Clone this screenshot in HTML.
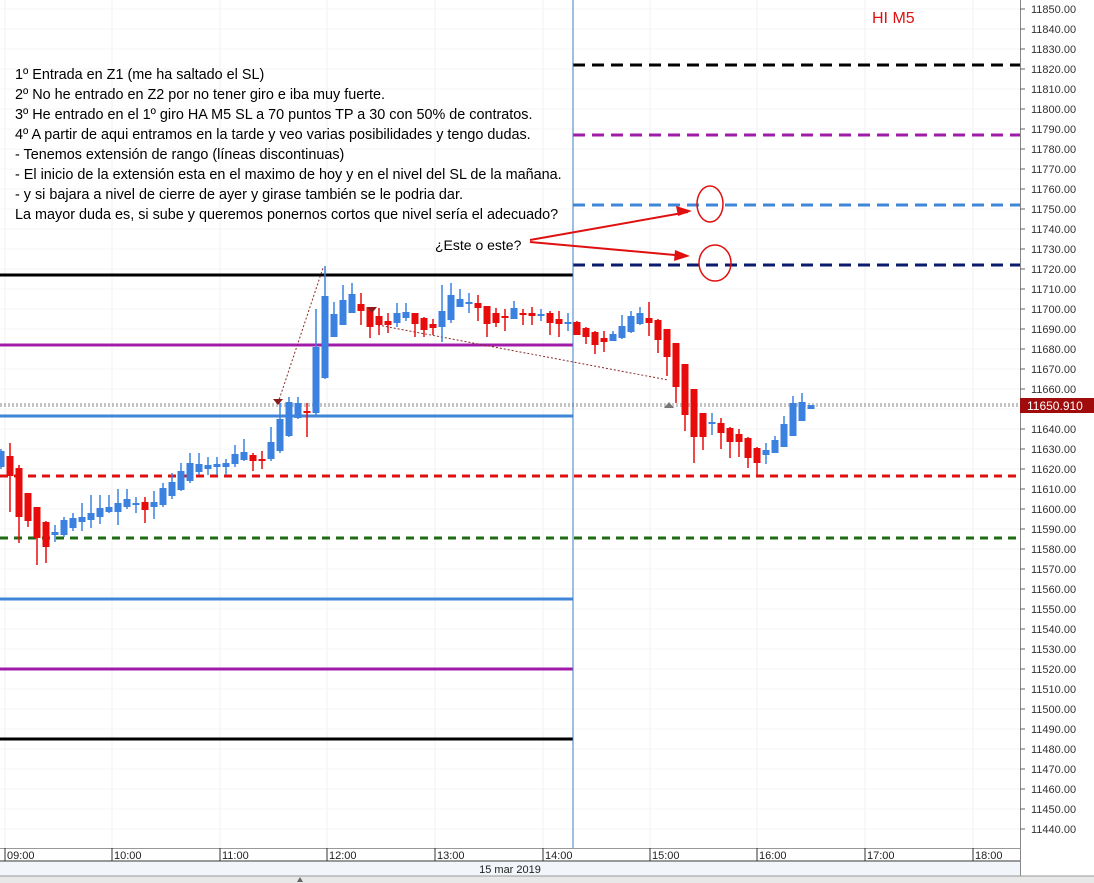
<!DOCTYPE html>
<html><head><meta charset="utf-8">
<style>
html,body{margin:0;padding:0;background:#fff;}
body{width:1094px;height:883px;overflow:hidden;font-family:"Liberation Sans",sans-serif;}
svg{display:block}
</style></head><body>
<svg id="c" width="1094" height="883" xmlns="http://www.w3.org/2000/svg" font-family="Liberation Sans, sans-serif">
<rect x="0" y="0" width="1094" height="883" fill="#fff"/>
<g id="grid"></g>
<g id="lines"></g>
<g id="candles"></g>
<g id="axis"></g>
<g id="ann"></g>
</svg>
<script>
const NS="http://www.w3.org/2000/svg";
function el(p,t,a,txt){const e=document.createElementNS(NS,t);for(const k in a)e.setAttribute(k,a[k]);if(txt!==undefined)e.textContent=txt;document.getElementById(p).appendChild(e);return e;}
const Y=v=>9+(11850-v)*2;
for(let v=11440;v<=11850;v+=10){el('grid','line',{x1:0,x2:1020,y1:Y(v),y2:Y(v),stroke:'#f5f5f5','stroke-width':1});}
const tx=[5,112,220,327,435,543,650,757,865,973];
tx.forEach(x=>el('grid','line',{x1:x,x2:x,y1:0,y2:848,stroke:'#f2f2f2','stroke-width':1}));
function hl(y,x1,x2,c,w,d){const a={x1:x1,x2:x2,y1:y,y2:y,stroke:c,'stroke-width':w};if(d)a['stroke-dasharray']=d;el('lines','line',a);}
hl(275,0,573,'#000',3);hl(345,0,573,'#a01ca8',3);hl(416,0,573,'#3f86d8',3);
hl(599,0,573,'#3f86d8',3);hl(669,0,573,'#a01ca8',3);hl(739,0,573,'#000',3);
hl(476,0,1020,'#e01010',3,'8,6');hl(538,0,1020,'#1f6b14',3,'8,6');
hl(65,573,1020,'#000',3,'12,7');hl(135,573,1020,'#a01ca8',3,'12,7');
hl(205,573,1020,'#3f86d8',3,'12,7');hl(265,573,1020,'#0a1a6e',3,'12,7');
hl(404,0,1020,'#888',1,'2,2');hl(406,0,1020,'#888',1,'2,2');
el('lines','line',{x1:573,x2:573,y1:0,y2:848,stroke:'#3f7fc0','stroke-width':1});
el('lines','line',{x1:278,y1:403,x2:323,y2:268,stroke:'#8b2a2a','stroke-width':1,'stroke-dasharray':'2,2'});
el('lines','line',{x1:378,y1:325,x2:668,y2:380,stroke:'#8b2a2a','stroke-width':1,'stroke-dasharray':'2,2'});
const D=[[11621,11629,11630,11620],[11626.5,11616.5,11633,11598.5],[11620.5,11596,11622,11583],[11608,11594,11608,11591],[11601,11585.5,11601,11572],[11593.5,11581,11594,11573],
[11587,11588.5,11592,11583.5],[11587,11594.5,11596,11586],[11590.5,11595.5,11598,11589],[11593.5,11596,11603,11589],[11594.5,11598,11607,11590.5],[11596,11600.5,11607,11592.5],
[11598.5,11601,11607,11598],[11598.5,11603,11610,11592],[11601,11605,11610,11600],[11602,11603,11606,11598],[11603.5,11599.5,11606,11593],[11601,11603.5,11609,11595],
[11602,11610.5,11613,11601],[11606.5,11613.5,11618,11605],[11609.5,11619,11623,11609],[11614,11623,11628,11613],[11618.5,11622.5,11628,11617],[11620,11622,11626,11617],
[11621,11622.5,11626,11617],[11621,11623,11625,11617],[11622.5,11627.5,11632,11621],[11624.5,11628.5,11635,11624],[11627,11624,11628,11619],[11625,11624,11629,11620],
[11625,11633.5,11641,11624],[11629,11645,11653,11628],[11636.5,11653.5,11656,11636],[11645.5,11653,11656,11645],[11649,11648,11653,11636],[11648,11681,11700,11647],
[11665.5,11706.5,11721.5,11665],[11686,11697.5,11703.5,11686],[11692,11704.5,11712,11692],[11698,11707.5,11713,11698],[11702.5,11699,11708,11692],[11701,11691,11701,11685.5],
[11696.5,11692,11700.5,11687],[11694,11692,11698,11688],[11693,11698,11703,11691],[11695.5,11698.5,11703,11694],[11698,11692.5,11698,11686],[11695.5,11689.5,11696,11686],
[11692.5,11690.5,11695,11687],[11691,11699,11712,11683.5],[11694.5,11707,11713,11693],[11701,11705,11710,11701],[11703,11703.5,11708,11698],[11703,11700.5,11707,11694],
[11701.5,11692.5,11701.5,11686],[11698,11693,11700.5,11691],[11696.5,11695.5,11700,11689],[11695,11700.5,11704,11695],[11698,11697,11700,11692],[11698,11696.5,11701,11692],
[11697,11697.5,11700,11694],[11698,11693,11699,11687],[11695,11692.5,11699,11686],[11693,11693.5,11698,11689],[11693.5,11687,11694,11687],[11690.5,11686,11691,11682.5],
[11688.5,11682,11689,11677.5],[11685.5,11683.5,11689,11678.5],[11684,11687.5,11689,11684],[11685.5,11691.5,11697,11685],[11688.5,11696.5,11699,11688],[11692.5,11698,11701,11692],
[11695.5,11693,11703.5,11686.5],[11694.5,11684.5,11695,11678],[11690,11676,11690,11666.5],[11683,11661,11683,11653],[11672.5,11647,11672.5,11639],[11660,11636,11660,11623],
[11648,11636,11648,11629.5],[11642.5,11643.5,11648,11637],[11643,11638,11645.5,11630],[11640.5,11633.5,11641,11625.5],[11637.5,11633.5,11640,11626],[11635.5,11625.5,11636,11620.5],
[11630.5,11623,11631,11617],[11627,11629.5,11633,11622.5],[11628,11634.5,11636.5,11628],[11631,11642.5,11646.5,11631],[11636.5,11653,11656.5,11636.5],[11644,11653.5,11658,11644],[11650,11652,11652,11650]];
D.forEach((d,i)=>{const x=1+9*i;const[o,c,h,l]=d;const up=c>=o;const col=up?'#3b82e0':'#e80b0b';
el('candles','line',{x1:x,x2:x,y1:Y(h),y2:Y(l),stroke:col,'stroke-width':1.5});
const t=Math.min(Y(o),Y(c)),b=Math.max(Y(o),Y(c));
el('candles','rect',{x:x-3.5,y:t,width:7,height:Math.max(b-t,2),fill:col});});
el('axis','rect',{x:1020,y:0,width:74,height:883,fill:'#fff'});
el('axis','line',{x1:1020.5,x2:1020.5,y1:0,y2:876,stroke:'#888','stroke-width':1});
for(let v=11440;v<=11850;v+=10){const y=Y(v);el('axis','line',{x1:1020,x2:1025,y1:y,y2:y,stroke:'#666'});
el('axis','text',{x:1031,y:y+4,'font-size':11,fill:'#333'},v.toFixed(2));}
el('axis','rect',{x:1020,y:398,width:74,height:15,fill:'#a00c0c'});
el('axis','text',{x:1027,y:410,'font-size':12,fill:'#fff'},'11650.910');
el('axis','rect',{x:0,y:848,width:1020,height:35,fill:'#fff'});
el('axis','line',{x1:0,x2:1020,y1:848.5,y2:848.5,stroke:'#999'});
el('axis','line',{x1:0,x2:1020,y1:861,y2:861,stroke:'#333','stroke-width':1});
el('axis','rect',{x:0,y:862,width:1020,height:14,fill:'#f2f5fa'});
el('axis','rect',{x:0,y:876,width:1094,height:7,fill:'#e8e8e8'});
el('axis','line',{x1:0,x2:1094,y1:876,y2:876,stroke:'#999'});
const tl=['09:00','10:00','11:00','12:00','13:00','14:00','15:00','16:00','17:00','18:00'];
tx.forEach((x,i)=>{el('axis','line',{x1:x,x2:x,y1:848,y2:861,stroke:'#333'});el('axis','text',{x:x+2,y:859,'font-size':11,fill:'#222'},tl[i]);});
el('axis','text',{x:510,y:873,'font-size':11,fill:'#222','text-anchor':'middle'},'15 mar 2019');
el('axis','polygon',{points:'297,882 300,877 303,882',fill:'#666'});
const L=['1º  Entrada en Z1 (me ha saltado el SL)','2º No he entrado en Z2 por no tener giro e iba muy fuerte.','3º He entrado en el 1º giro HA M5 SL a 70 puntos TP a 30 con 50% de contratos.','4º A partir de aqui entramos en la tarde y veo varias posibilidades y tengo dudas.','- Tenemos extensión de rango (líneas discontinuas)','- El inicio de la extensión esta en el maximo de hoy y en el nivel del SL de la mañana.','- y si bajara a nivel de cierre de ayer y girase también se le podria dar.','La mayor duda es, si sube y queremos ponernos cortos que nivel sería el adecuado?'];
L.forEach((s,i)=>el('ann','text',{x:15,y:79+i*20,'font-size':14.4,fill:'#000'},s));
el('ann','text',{x:872,y:23,'font-size':16,fill:'#e01010'},'HI M5');
el('ann','text',{x:435,y:250,'font-size':14,fill:'#000'},'¿Este o este?');
el('ann','line',{x1:530,y1:240,x2:688,y2:212,stroke:'#e01010','stroke-width':2});
el('ann','polygon',{points:'692,211 676,206 678,216',fill:'#e01010'});
el('ann','line',{x1:530,y1:242,x2:686,y2:256,stroke:'#e01010','stroke-width':2});
el('ann','polygon',{points:'690,256 675,250 674,261',fill:'#e01010'});
el('ann','ellipse',{cx:710,cy:204,rx:13,ry:18,fill:'none',stroke:'#e01010','stroke-width':1.5});
el('ann','ellipse',{cx:715,cy:263,rx:16,ry:18,fill:'none',stroke:'#e01010','stroke-width':1.5});
el('ann','polygon',{points:'273,399 283,399 278,405',fill:'#8b1a1a'});
el('ann','polygon',{points:'367,307 377,307 372,313',fill:'#8b1a1a'});
el('ann','polygon',{points:'664,408 674,408 669,402',fill:'#777'});
</script>
</body></html>
